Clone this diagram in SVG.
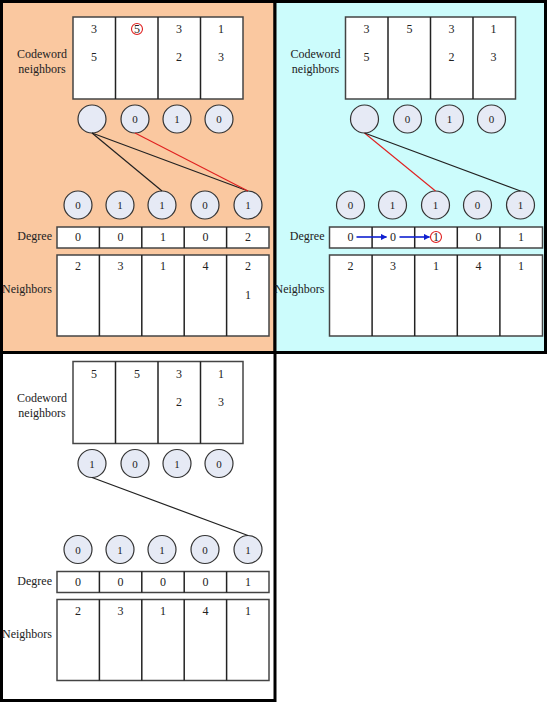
<svg xmlns="http://www.w3.org/2000/svg" width="550" height="705" viewBox="0 0 550 705">
<defs>
<style>
text{font-family:"Liberation Serif","Times New Roman",serif;fill:#222}
.d{font-size:12px;text-anchor:middle}
.c{font-size:11px;text-anchor:middle}
.lbl{font-size:12px}
.box{fill:#fff;stroke:#444;stroke-width:1.5}
.div{stroke:#222;stroke-width:1.5}
.node{fill:#e6eaf5;stroke:#333;stroke-width:1.2}
.blk{stroke:#222;stroke-width:1.2;fill:none}
.red{stroke:#e02020;stroke-width:1.1;fill:none}
.ring{stroke:#e02020;stroke-width:1.1;fill:none}
.blue{stroke:#1020d0;stroke-width:1.6;fill:none}
.panel{stroke:#000;stroke-width:3}
</style>
<marker id="ah" viewBox="0 0 10 10" refX="9" refY="5" markerWidth="4" markerHeight="4" orient="auto" markerUnits="strokeWidth">
<path d="M0,0 L10,5 L0,10 z" fill="#1020d0"/>
</marker>
</defs>

<rect x="0" y="0" width="550" height="705" fill="#fff"/>
<rect class="panel" x="1.5" y="1.5" width="273.5" height="351" fill="#fac8a0"/>
<rect class="panel" x="275" y="1.5" width="270.5" height="351" fill="#ccfcfc"/>
<rect class="panel" x="1.5" y="352.5" width="273.5" height="348" fill="#fff"/>

<!-- Panel 1 -->
<g id="panel1">
<g id="p1-codeword">
<rect class="box" x="73" y="17" width="170" height="82"/>
<line class="div" x1="115.5" y1="17" x2="115.5" y2="99"/>
<line class="div" x1="158" y1="17" x2="158" y2="99"/>
<line class="div" x1="200.5" y1="17" x2="200.5" y2="99"/>
<text class="d" x="94" y="33">3</text><text class="d" x="94" y="61">5</text>
<text class="d" x="137" y="33">5</text><circle class="ring" cx="137" cy="29" r="5.5"/>
<text class="d" x="179" y="33">3</text><text class="d" x="179" y="61">2</text>
<text class="d" x="221" y="33">1</text><text class="d" x="221" y="61">3</text>
</g>
<g id="p1-labels">
<text class="lbl" x="42" y="58" text-anchor="middle">Codeword</text>
<text class="lbl" x="42" y="73" text-anchor="middle">neighbors</text>
<text class="lbl" x="52" y="240" text-anchor="end">Degree</text>
<text class="lbl" x="52" y="293" text-anchor="end">Neighbors</text>
</g>
<g id="p1-checks">
<circle class="node" cx="92" cy="119" r="14"/>
<circle class="node" cx="135" cy="119" r="14"/><text class="c" x="135" y="123">0</text>
<circle class="node" cx="177" cy="119" r="14"/><text class="c" x="177" y="123">1</text>
<circle class="node" cx="219" cy="119" r="14"/><text class="c" x="219" y="123">0</text>
</g>
<g id="p1-bits">
<circle class="node" cx="78" cy="205" r="14"/><text class="c" x="78" y="209">0</text>
<circle class="node" cx="120" cy="205" r="14"/><text class="c" x="120" y="209">1</text>
<circle class="node" cx="162" cy="205" r="14"/><text class="c" x="162" y="209">1</text>
<circle class="node" cx="205" cy="205" r="14"/><text class="c" x="205" y="209">0</text>
<circle class="node" cx="248" cy="205" r="14"/><text class="c" x="248" y="209">1</text>
</g>
<g id="p1-degree">
<rect class="box" x="57" y="227" width="212" height="21"/>
<line class="div" x1="99.4" y1="227" x2="99.4" y2="248"/>
<line class="div" x1="141.8" y1="227" x2="141.8" y2="248"/>
<line class="div" x1="184.2" y1="227" x2="184.2" y2="248"/>
<line class="div" x1="226.6" y1="227" x2="226.6" y2="248"/>
<text class="d" x="78" y="241">0</text><text class="d" x="120.5" y="241">0</text><text class="d" x="163" y="241">1</text><text class="d" x="205.5" y="241">0</text><text class="d" x="248" y="241">2</text>
</g>
<g id="p1-neighbors">
<rect class="box" x="57" y="255" width="212" height="81"/>
<line class="div" x1="99.4" y1="255" x2="99.4" y2="336"/>
<line class="div" x1="141.8" y1="255" x2="141.8" y2="336"/>
<line class="div" x1="184.2" y1="255" x2="184.2" y2="336"/>
<line class="div" x1="226.6" y1="255" x2="226.6" y2="336"/>
<text class="d" x="78" y="270">2</text><text class="d" x="120.5" y="270">3</text><text class="d" x="163" y="270">1</text><text class="d" x="205.5" y="270">4</text><text class="d" x="248" y="270">2</text>
<text class="d" x="248" y="299">1</text>
</g>
<g id="p1-connectors">
<line class="blk" x1="92" y1="133" x2="162" y2="191"/>
<line class="blk" x1="92" y1="133" x2="248" y2="191"/>
<line class="red" x1="135" y1="133" x2="248" y2="191"/>
</g>
</g>

<!-- Panel 2 -->
<g id="panel2" transform="translate(272.5,0)">
<g id="p2-codeword">
<rect class="box" x="73" y="17" width="170" height="82"/>
<line class="div" x1="115.5" y1="17" x2="115.5" y2="99"/>
<line class="div" x1="158" y1="17" x2="158" y2="99"/>
<line class="div" x1="200.5" y1="17" x2="200.5" y2="99"/>
<text class="d" x="94" y="33">3</text><text class="d" x="94" y="61">5</text>
<text class="d" x="137" y="33">5</text>
<text class="d" x="179" y="33">3</text><text class="d" x="179" y="61">2</text>
<text class="d" x="221" y="33">1</text><text class="d" x="221" y="61">3</text>
</g>
<g id="p2-labels">
<text class="lbl" x="43" y="58" text-anchor="middle">Codeword</text>
<text class="lbl" x="43" y="73" text-anchor="middle">neighbors</text>
<text class="lbl" x="52" y="240" text-anchor="end">Degree</text>
<text class="lbl" x="52" y="293" text-anchor="end">Neighbors</text>
</g>
<g id="p2-checks">
<circle class="node" cx="92" cy="119" r="14"/>
<circle class="node" cx="135" cy="119" r="14"/><text class="c" x="135" y="123">0</text>
<circle class="node" cx="177" cy="119" r="14"/><text class="c" x="177" y="123">1</text>
<circle class="node" cx="219" cy="119" r="14"/><text class="c" x="219" y="123">0</text>
</g>
<g id="p2-bits">
<circle class="node" cx="78" cy="205" r="14"/><text class="c" x="78" y="209">0</text>
<circle class="node" cx="120" cy="205" r="14"/><text class="c" x="120" y="209">1</text>
<circle class="node" cx="163" cy="205" r="14"/><text class="c" x="163" y="209">1</text>
<circle class="node" cx="205" cy="205" r="14"/><text class="c" x="205" y="209">0</text>
<circle class="node" cx="248" cy="205" r="14"/><text class="c" x="248" y="209">1</text>
</g>
<g id="p2-degree">
<rect class="box" x="57" y="227" width="213" height="21"/>
<line class="div" x1="99.6" y1="227" x2="99.6" y2="248"/>
<line class="div" x1="142.2" y1="227" x2="142.2" y2="248"/>
<line class="div" x1="184.8" y1="227" x2="184.8" y2="248"/>
<line class="div" x1="227.4" y1="227" x2="227.4" y2="248"/>
<text class="d" x="78" y="241">0</text><text class="d" x="120.5" y="241">0</text><text class="d" x="163.5" y="241">1</text><circle class="ring" cx="163.5" cy="237" r="5.5"/><text class="d" x="206" y="241">0</text><text class="d" x="248.5" y="241">1</text>
</g>
<g id="p2-neighbors">
<rect class="box" x="57" y="255" width="213" height="81"/>
<line class="div" x1="99.6" y1="255" x2="99.6" y2="336"/>
<line class="div" x1="142.2" y1="255" x2="142.2" y2="336"/>
<line class="div" x1="184.8" y1="255" x2="184.8" y2="336"/>
<line class="div" x1="227.4" y1="255" x2="227.4" y2="336"/>
<text class="d" x="78" y="270">2</text><text class="d" x="120.5" y="270">3</text><text class="d" x="163.5" y="270">1</text><text class="d" x="206" y="270">4</text><text class="d" x="248.5" y="270">1</text>
</g>
<g id="p2-connectors">
<line class="red" x1="92" y1="133" x2="163" y2="191"/>
<line class="blk" x1="92" y1="133" x2="248" y2="191"/>
<line class="blue" x1="84" y1="237" x2="114" y2="237" marker-end="url(#ah)"/>
<line class="blue" x1="127" y1="237" x2="157" y2="237" marker-end="url(#ah)"/>
</g>
</g>

<!-- Panel 3 -->
<g id="panel3" transform="translate(0,344.5)">
<g id="p3-codeword">
<rect class="box" x="73" y="17" width="170" height="82"/>
<line class="div" x1="115.5" y1="17" x2="115.5" y2="99"/>
<line class="div" x1="158" y1="17" x2="158" y2="99"/>
<line class="div" x1="200.5" y1="17" x2="200.5" y2="99"/>
<text class="d" x="94" y="33">5</text>
<text class="d" x="137" y="33">5</text>
<text class="d" x="179" y="33">3</text><text class="d" x="179" y="61">2</text>
<text class="d" x="221" y="33">1</text><text class="d" x="221" y="61">3</text>
</g>
<g id="p3-labels">
<text class="lbl" x="42" y="57" text-anchor="middle">Codeword</text>
<text class="lbl" x="42" y="72" text-anchor="middle">neighbors</text>
<text class="lbl" x="52" y="240" text-anchor="end">Degree</text>
<text class="lbl" x="52" y="293" text-anchor="end">Neighbors</text>
</g>
<g id="p3-checks">
<circle class="node" cx="92" cy="119" r="14"/><text class="c" x="92" y="123">1</text>
<circle class="node" cx="135" cy="119" r="14"/><text class="c" x="135" y="123">0</text>
<circle class="node" cx="177" cy="119" r="14"/><text class="c" x="177" y="123">1</text>
<circle class="node" cx="219" cy="119" r="14"/><text class="c" x="219" y="123">0</text>
</g>
<g id="p3-bits">
<circle class="node" cx="78" cy="205" r="14"/><text class="c" x="78" y="209">0</text>
<circle class="node" cx="120" cy="205" r="14"/><text class="c" x="120" y="209">1</text>
<circle class="node" cx="162" cy="205" r="14"/><text class="c" x="162" y="209">1</text>
<circle class="node" cx="205" cy="205" r="14"/><text class="c" x="205" y="209">0</text>
<circle class="node" cx="248" cy="205" r="14"/><text class="c" x="248" y="209">1</text>
</g>
<g id="p3-degree">
<rect class="box" x="57" y="227" width="212" height="21"/>
<line class="div" x1="99.4" y1="227" x2="99.4" y2="248"/>
<line class="div" x1="141.8" y1="227" x2="141.8" y2="248"/>
<line class="div" x1="184.2" y1="227" x2="184.2" y2="248"/>
<line class="div" x1="226.6" y1="227" x2="226.6" y2="248"/>
<text class="d" x="78" y="241">0</text><text class="d" x="120.5" y="241">0</text><text class="d" x="163" y="241">0</text><text class="d" x="205.5" y="241">0</text><text class="d" x="248" y="241">1</text>
</g>
<g id="p3-neighbors">
<rect class="box" x="57" y="255" width="212" height="81"/>
<line class="div" x1="99.4" y1="255" x2="99.4" y2="336"/>
<line class="div" x1="141.8" y1="255" x2="141.8" y2="336"/>
<line class="div" x1="184.2" y1="255" x2="184.2" y2="336"/>
<line class="div" x1="226.6" y1="255" x2="226.6" y2="336"/>
<text class="d" x="78" y="270">2</text><text class="d" x="120.5" y="270">3</text><text class="d" x="163" y="270">1</text><text class="d" x="205.5" y="270">4</text><text class="d" x="248" y="270">1</text>
</g>
<g id="p3-connectors">
<line class="blk" x1="92" y1="133" x2="248" y2="191"/>
</g>
</g>
</svg>
